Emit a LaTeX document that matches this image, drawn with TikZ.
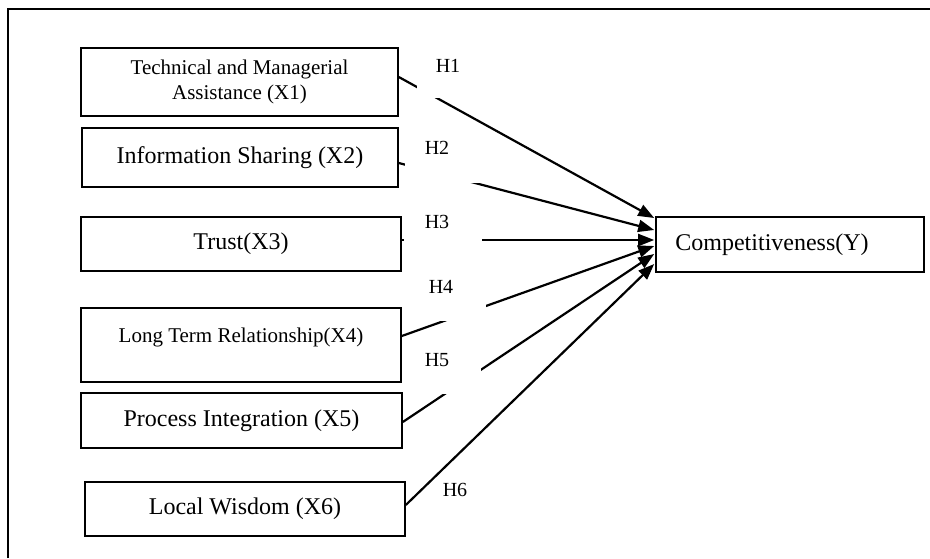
\documentclass[tikz,border=0pt]{standalone}
\usepackage{fontspec}
\setmainfont{Liberation Serif}
\usetikzlibrary{arrows.meta}
\begin{document}
\begin{tikzpicture}[x=1pt,y=-1pt,
  box/.style={draw,line width=1.6pt,inner sep=0pt,align=center,font=\fontsize{24}{28}\selectfont},
  small/.style={font=\fontsize{21}{25}\selectfont,align=center,inner sep=0pt},
  conn/.style={line width=2.2pt,-{Triangle[length=16pt,width=12pt]}},
  hyp/.style={font=\fontsize{20}{24}\selectfont,inner sep=0pt},
  mask/.style={fill=white}]
\useasboundingbox (0,0) rectangle (930,558);
\draw[line width=1.6pt] (8,558) -- (8,9) -- (930,9);

\node[box,minimum width=317pt,minimum height=68pt,small,draw] (x1) at (239.5,82) {Technical and Managerial\\Assistance (X1)};
\node[box,minimum width=316pt,minimum height=59pt] (x2) at (240,157.5) {Information Sharing (X2)};
\node[box,minimum width=320pt,minimum height=54pt] (x3) at (241,244) {Trust(X3)};
\node[box,minimum width=320pt,minimum height=74pt] (x4) at (241,345) {};
\node[small] (x4t) at ([yshift=8pt]x4.center) {Long Term Relationship(X4)};
\node[box,minimum width=321pt,minimum height=55pt] (x5) at (241.5,420.5) {Process Integration (X5)};
\node[box,minimum width=320pt,minimum height=54pt] (x6) at (245,509) {Local Wisdom (X6)};
\node[box,minimum width=268pt,minimum height=55pt] (y) at (790,244.5) {};
\node[font=\fontsize{24}{28}\selectfont,inner sep=0pt,anchor=west] (yt) at ([xshift=20pt]y.west) {Competitiveness(Y)};

\draw[conn] ([yshift=5pt]x1.east) -- ([yshift=26.5pt,xshift=-1pt]y.west);
\draw[conn] ([yshift=-5.5pt]x2.east) -- ([yshift=14.5pt,xshift=-1pt]y.west);
\draw[conn] ([yshift=4pt]x3.east) -- ([yshift=4.5pt,xshift=-1pt]y.west);
\draw[conn] ([yshift=9pt]x4.east) -- ([yshift=-1.5pt,xshift=-1pt]y.west);
\draw[conn] ([yshift=-1.5pt]x5.east) -- ([yshift=-9.5pt,xshift=-1pt]y.west);
\draw[conn] ([yshift=4pt]x6.east) -- ([yshift=-19.5pt,xshift=-1pt]y.west);

\fill[mask] (417,50) rectangle (485,98);
\fill[mask] (405,135) rectangle (480,183);
\fill[mask] (404,208) rectangle (482,255);
\fill[mask] (420,275) rectangle (486,321);
\fill[mask] (415,348) rectangle (481,394);

\node[hyp] (h1) at (448,66) {H1};
\node[hyp] (h2) at (437,148) {H2};
\node[hyp] (h3) at (437,222) {H3};
\node[hyp] (h4) at (441,287) {H4};
\node[hyp] (h5) at (437,360) {H5};
\node[hyp] (h6) at (455,490) {H6};
\end{tikzpicture}
\end{document}
